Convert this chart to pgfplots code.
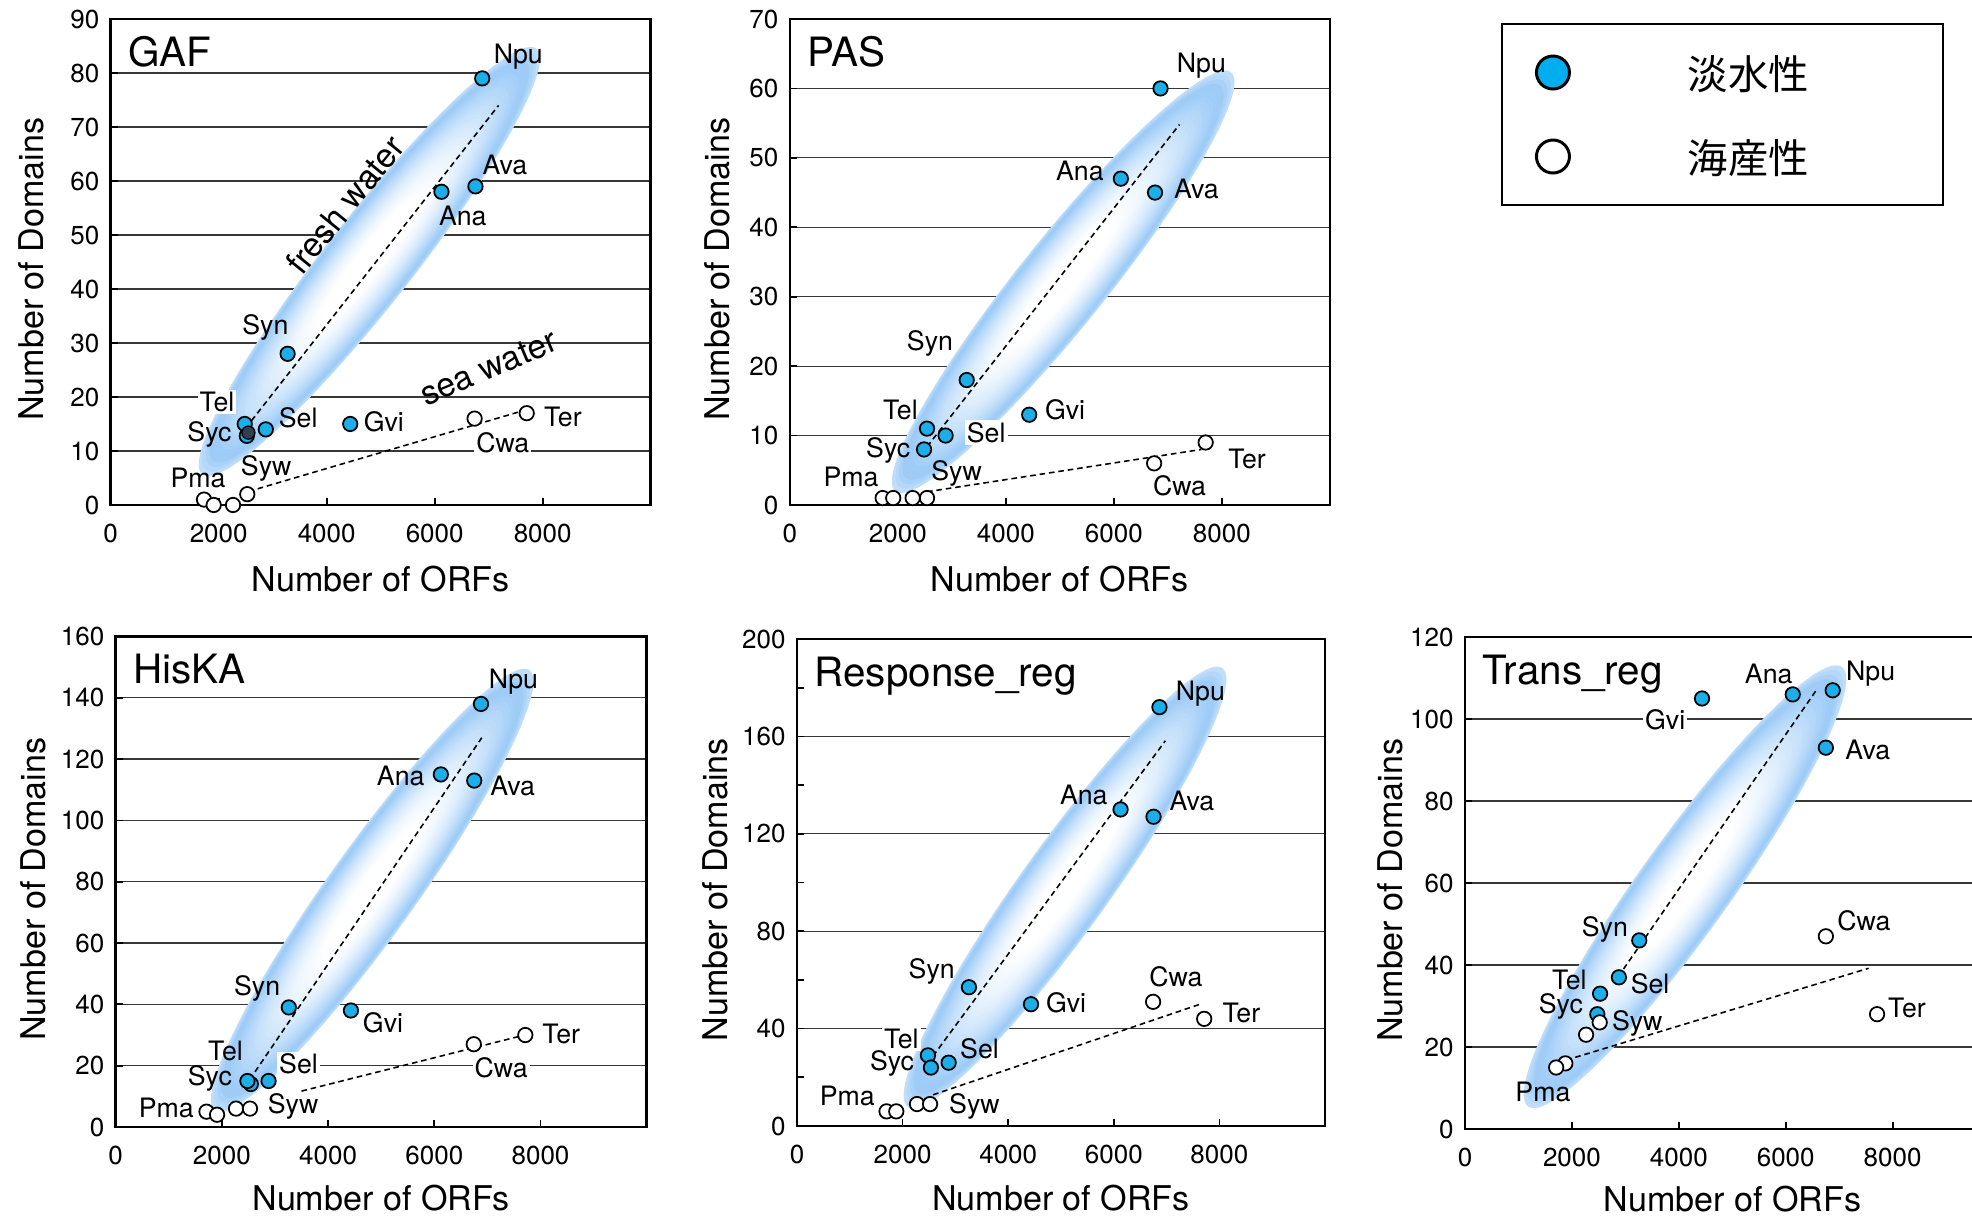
\documentclass[border=0pt]{standalone}
\usepackage{fontspec}
\setmainfont{TeX Gyre Heros}
\newfontfamily\cjk{Noto Sans CJK JP}
\usepackage{pgfplots}
\pgfplotsset{compat=1.18}

\definecolor{mcyan}{RGB}{27,174,232}
\definecolor{legcyan}{RGB}{0,174,239}
\definecolor{ellblue}{RGB}{158,204,247}
\definecolor{darknavy}{RGB}{52,62,82}
\definecolor{gridc}{RGB}{55,55,55}

\pgfplotsset{
  panel/.style={
    scale only axis, anchor=south west,
    xmin=0, xmax=10000, ymin=0,
    xtick={0,2000,4000,6000,8000},
    scaled x ticks=false,
    /pgf/number format/1000 sep={},
    /pgf/number format/assume math mode=true,
    tick align=inside, xtick pos=left, ytick pos=left,
    major tick length=0.07cm, minor tick length=0.07cm,
    tick style={black, line width=0.5pt},
    axis line style={black, line width=0.7pt},
    ymajorgrids, major grid style={gridc, line width=0.35pt},
    ticklabel style={font=\fontsize{7.4}{9}\selectfont},
    xticklabel style={yshift=-0.07cm},
    yticklabel style={xshift=0.01cm},
    label style={font=\fontsize{9.7}{11}\selectfont},
    xlabel={Number of ORFs}, ylabel={Number of Domains},
    xlab=0.74cm,
    clip=false, set layers,
  },
  xlab/.style={xlabel style={at={([yshift=-#1]axis description cs:0.5,0)}, anchor=center}},
  ylab/.style={ylabel style={at={([xshift=-#1]axis description cs:0,0.485)}, anchor=center}},
  fresh/.style={only marks, mark=*, mark size=2.05pt, mark options={draw=black, fill=mcyan, line width=0.5pt}},
  sea/.style={only marks, mark=*, mark size=2.05pt, mark options={draw=black, fill=white, line width=0.5pt}},
  trend/.style={black, line width=0.45pt, dash pattern=on 1.6pt off 1.1pt, forget plot},
}
\tikzset{lbl/.style={font=\fontsize{7.6}{9}\selectfont, inner sep=0.6pt}}

% shaded ellipse: centre x, centre y, angle, half length (cm), half width (cm)
% blue band near the rim, soft rim, white along the middle
\newcommand\ellgrad[5]{%
  \pgfplotsinvokeforeach{0,...,47}{%
    \fill[on layer=axis background,
      ellblue!\fpeval{round(100*((1-##1/48 > 0.94) ? (1-(0.06-##1/48)/0.06*0.35) : (min(1,max(0,(0.75-##1/48)/0.65))^1.6)))}!white,
      rotate around={#3:(axis cs:#1,#2)}]
      (axis cs:#1,#2) ellipse [x radius={#4cm*(1-##1/48)}, y radius={#5cm*(1-##1/48)}];
  }%
}
\newcommand\lab[3][]{\node[lbl,#1] at (axis cs:#2) {#3};}
\newcommand\paneltitle[1]{\node[anchor=north west, inner sep=0pt, font=\fontsize{11.5}{13}\selectfont]
  at ([xshift=0.17cm,yshift=-0.17cm]rel axis cs:0,1) {#1};}

\begin{document}
\begin{tikzpicture}

% ---------------- GAF
\begin{axis}[panel, ylab=0.79cm, at={(1.107cm,7.11cm)}, width=5.40cm, height=4.86cm,
  ymax=90, ytick={0,10,...,90}]
\ellgrad{4790}{45.1}{51.86}{2.705}{0.44}
\addplot[trend] coordinates {(2607,15.6) (7183,74)};
\addplot[trend] coordinates {(2552,2.5) (7650,17.5)};
\addplot[fresh] coordinates {(6880,79) (6755,59) (6125,58) (3276,28) (2482,15) (2872,14) (4436,15) (2520,12.8)};
\addplot[only marks, mark=*, mark size=1.85pt, mark options={draw=none, fill=darknavy}] coordinates {(2550,13.4)};
\addplot[sea] coordinates {(1728,1) (1907,0) (2265,0) (2529,2) (6739,16) (7704,17)};
\paneltitle{GAF}
\lab{7549,83}{Npu} \lab{7300,63}{Ava} \lab{6521,53.6}{Ana} \lab{2864,32.8}{Syn}
\lab[fill=white]{1969,19}{Tel} \lab{1829,13.1}{Syc} \lab{3471,16.2}{Sel} \lab{5058,15.5}{Gvi}
\lab{1619,5}{Pma} \lab{2879,6.7}{Syw} \lab[fill=white]{7261,11.5}{Cwa} \lab{8374,16.3}{Ter}
\node[font=\fontsize{9.6}{11}\selectfont, rotate=51] at (axis cs:4335,55.6) {fresh water};
\node[font=\fontsize{9.6}{11}\selectfont, rotate=23] at (axis cs:7000,25.4) {sea water};
\end{axis}

% ---------------- PAS
\begin{axis}[panel, ylab=0.73cm, at={(7.898cm,7.11cm)}, width=5.40cm, height=4.86cm,
  ymax=70, ytick={0,10,...,70},
  legend cell align=left,
  legend style={at={(axis description cs:1.3165,0.9924)}, anchor=north west,
    draw=black, line width=0.7pt, fill=white, inner xsep=0pt, inner ysep=0.066cm,
    row sep=0pt, column sep=0pt,
    nodes={inner sep=0pt, text width=2.55cm, align=left, text depth=0pt},
    font=\cjk\fontsize{11.5}{13}\selectfont}]
\ellgrad{5062}{32.15}{51.28}{2.683}{0.44}
\addplot[trend] coordinates {(2541,8.4) (7216,54.8)};
\addplot[trend] coordinates {(2541,1.9) (7623,8.0)};
\addplot[fresh, legend image code/.code={\path[draw=none, fill=none] (0cm,-0.42cm) rectangle (1.86cm,0.42cm);
    \draw[black, line width=0.85pt, fill=legcyan] (0.51cm,0cm) circle (0.165cm);}]
  coordinates {(6865,60) (6130,47) (6763,45) (3276,18) (4433,13) (2541,11) (2885,10) (2486,8)};
\addlegendentry{淡水性}
\addplot[sea, legend image code/.code={\path[draw=none, fill=none] (0cm,-0.42cm) rectangle (1.86cm,0.42cm);
    \draw[black, line width=0.85pt, fill=white] (0.51cm,0cm) circle (0.165cm);}]
  coordinates {(1720,1) (1915,1) (2275,1) (2541,1) (6747,6) (7701,9)};
\addlegendentry{海産性}
\paneltitle{PAS}
\lab{7623,63.3}{Npu} \lab{5371,48.1}{Ana} \lab{7529,45.5}{Ava} \lab{2596,23.3}{Syn}
\lab{5098,13.7}{Gvi} \lab{2048,13.7}{Tel} \lab[fill=white]{3636,10.4}{Sel} \lab{1822,7.8}{Syc}
\lab{1134,4.1}{Pma} \lab{3088,4.5}{Syw} \lab{7217,2.8}{Cwa} \lab{8467,6.7}{Ter}
\end{axis}

% ---------------- HisKA
\begin{axis}[panel, ylab=0.82cm, xlab=0.71cm, at={(1.157cm,0.89cm)}, width=5.31cm, height=4.905cm,
  ymax=160, ytick={0,20,...,160}]
\ellgrad{4831}{77.2}{54.45}{2.705}{0.44}
\addplot[trend] coordinates {(2624,18) (6895,127)};
\addplot[trend] coordinates {(3499,11.7) (7634,29.7)};
\addplot[fresh] coordinates {(2545,14) (6879,138) (6123,115) (6752,113) (3260,39) (4430,38) (2481,15) (2879,15)};
\addplot[sea] coordinates {(1710,5) (1909,4) (2266,6) (2529,6) (6743,27) (7714,30)};
\paneltitle{HisKA}
\lab{7491,145.4}{Npu} \lab{5368,114.5}{Ana} \lab{7475,111.1}{Ava} \lab{2664,45.3}{Syn}
\lab{5034,34.1}{Gvi} \lab{8390,30.2}{Ter} \lab[fill=white]{7260,19.3}{Cwa} \lab{2068,24.9}{Tel}
\lab[fill=white]{3443,20.5}{Sel} \lab{1773,15.9}{Syc} \lab{954,6.3}{Pma} \lab{3340,6.7}{Syw}
\end{axis}

% ---------------- Response_reg
\begin{axis}[panel, ylab=0.82cm, xlab=0.72cm, at={(7.97cm,0.90cm)}, width=5.28cm, height=4.87cm,
  ymax=200, ytick={0,40,...,200}, minor ytick={20,60,...,180}]
\ellgrad{5076}{98}{54.32}{2.698}{0.44}
\addplot[trend] coordinates {(2576,28.7) (6976,158.2)};
\addplot[trend] coordinates {(2576,12.8) (7632,50)};
\addplot[fresh] coordinates {(6864,172) (6128,130) (6752,127) (3256,57) (4432,50) (2480,29) (2536,24) (2872,26)};
\addplot[sea] coordinates {(1696,6) (1880,6) (2272,9) (2520,9) (6744,51) (7712,44)};
\paneltitle{Response\_reg}
\lab{7640,177.4}{Npu} \lab{5432,135.9}{Ana} \lab{7480,133.5}{Ava} \lab{2552,63.3}{Syn}
\lab{5096,50.7}{Gvi} \lab{7176,61.4}{Cwa} \lab{8416,46.3}{Ter} \lab[fill=white]{1976,35.9}{Tel}
\lab{3456,31.9}{Sel} \lab{1800,25.8}{Syc} \lab{952,12.3}{Pma} \lab{3360,8}{Syw}
\end{axis}

% ---------------- Trans_reg
\begin{axis}[panel, ylab=0.75cm, xlab=0.70cm, at={(14.65cm,0.87cm)}, width=5.345cm, height=4.92cm,
  ymax=120, ytick={0,20,...,120}]
\ellgrad{4115}{59.1}{54.48}{2.70}{0.46}
\addplot[trend] coordinates {(2864,37.1) (6587,107.3)};
\addplot[trend] coordinates {(1892,16.8) (7551,39.2)};
\addplot[fresh] coordinates {(4434,105) (6131,106) (6879,107) (6751,93) (3260,46) (2879,37) (2527,33) (2475,28)};
\addplot[sea] coordinates {(2520,26) (2265,23) (1877,16) (1705,15) (6751,47) (7709,28)};
\paneltitle{Trans\_reg}
\lab{5682,111}{Ana} \lab{7589,111}{Npu} \lab[fill=white]{3746,99.7}{Gvi} \lab{7536,92.4}{Ava}
\lab{2617,48.7}{Syn} \lab{7462,50.8}{Cwa} \lab{8269,29.6}{Ter} \lab{1951,36.4}{Tel}
\lab{3462,35.4}{Sel} \lab{1794,30}{Syc} \lab{3222,25.8}{Syw} \lab{1458,9}{Pma}
\end{axis}

\pgfresetboundingbox
\useasboundingbox (0,0) rectangle (19.72,12.16);
\end{tikzpicture}
\end{document}
